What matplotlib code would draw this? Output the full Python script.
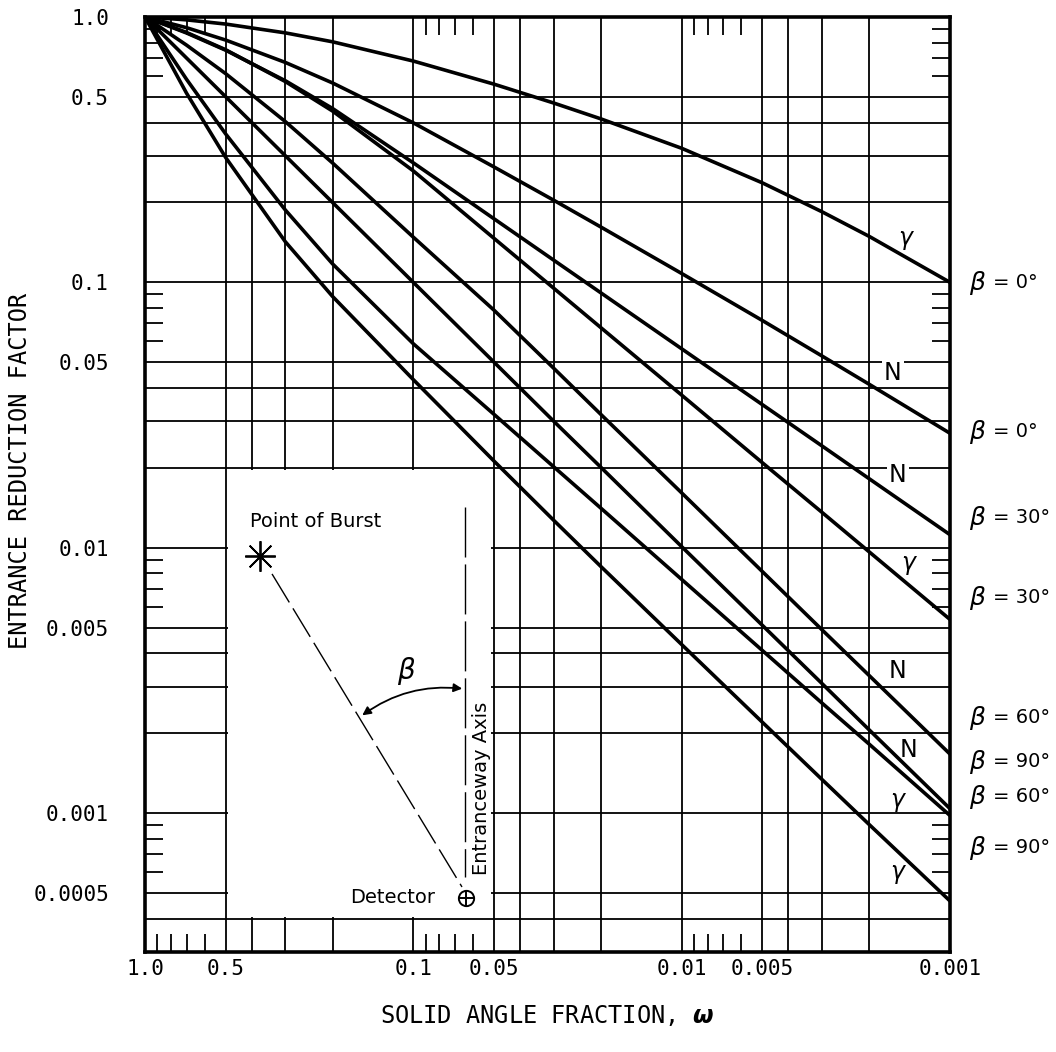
import matplotlib
matplotlib.use("Agg")
import matplotlib.pyplot as plt
from matplotlib.patches import FancyArrowPatch
from matplotlib.ticker import FixedLocator, NullFormatter

# solid angle fraction (x) where the curves were read
omega = [1.0, 0.7, 0.5, 0.3, 0.2, 0.1, 0.05, 0.03, 0.02, 0.01, 0.005, 0.003, 0.002, 0.001]

# entrance reduction factor
gamma_0 = [1.0, 0.975, 0.94, 0.871, 0.806, 0.682, 0.558, 0.474, 0.413, 0.32, 0.237, 0.1845, 0.149, 0.1]
n_0 = [1.0, 0.911, 0.818, 0.674, 0.564, 0.399, 0.272, 0.204, 0.1616, 0.108, 0.0718, 0.0528, 0.0413, 0.027]
n_30 = [1.0, 0.87, 0.749, 0.575, 0.452, 0.282, 0.1735, 0.1213, 0.0913, 0.0562, 0.0346, 0.0242, 0.0182, 0.0112]
gamma_30 = [1.0, 0.874, 0.752, 0.571, 0.442, 0.263, 0.1464, 0.0951, 0.0675, 0.0376, 0.0209, 0.0136, 0.00965, 0.00537]
n_60 = [1.0, 0.783, 0.611, 0.4035, 0.2817, 0.148, 0.0785, 0.0475, 0.0318, 0.0161, 0.00813, 0.00491, 0.0033, 0.00167]
n_90 = [1.0, 0.7, 0.5, 0.3, 0.2, 0.1, 0.05, 0.03, 0.0201, 0.0101, 0.0051, 0.00308, 0.00206, 0.00104]
gamma_60 = [1.0, 0.582, 0.362, 0.1874, 0.1174, 0.0587, 0.0318, 0.0202, 0.0141, 0.0076, 0.0041, 0.0026, 0.00182, 0.00098]
gamma_90 = [1.0, 0.516, 0.295, 0.1423, 0.0885, 0.043, 0.0212, 0.0127, 0.0085, 0.00432, 0.0022, 0.00134, 0.000906, 0.000467]

curves = [gamma_0, n_0, n_30, gamma_30, n_60, n_90, gamma_60, gamma_90]
curve_tags = ["γ", "N", "N", "γ", "N", "N", "γ", "γ"]
beta_labels = ["0", "0", "30", "30", "60", "90", "60", "90"]

x_ticks = [1.0, 0.5, 0.1, 0.05, 0.01, 0.005, 0.001]
x_ticklabels = ["1.0", "0.5", "0.1", "0.05", "0.01", "0.005", "0.001"]
y_ticks = [1.0, 0.5, 0.1, 0.05, 0.01, 0.005, 0.001, 0.0005]
y_ticklabels = ["1.0", "0.5", "0.1", "0.05", "0.01", "0.005", "0.001", "0.0005"]

x_grid = [0.5, 0.4, 0.3, 0.2, 0.1, 0.05, 0.04, 0.03, 0.02, 0.01, 0.005, 0.004, 0.003, 0.002]
y_grid = [0.5, 0.4, 0.3, 0.2, 0.1, 0.05, 0.04, 0.03, 0.02, 0.01, 0.005, 0.004, 0.003,
          0.002, 0.001, 0.0005, 0.0004]
x_minor = [0.9, 0.8, 0.7, 0.6, 0.09, 0.08, 0.07, 0.06, 0.009, 0.008, 0.007, 0.006]
y_minor = [0.9, 0.8, 0.7, 0.6, 0.09, 0.08, 0.07, 0.06, 0.009, 0.008, 0.007, 0.006,
           0.0009, 0.0008, 0.0007, 0.0006]

mono = "DejaVu Sans Mono"

fig = plt.figure(figsize=(10.56, 10.52), dpi=100)
ax = fig.add_axes([0.1373, 0.0951, 0.7623, 0.8888])
ax.set_xscale("log")
ax.set_yscale("log")
ax.set_xlim(1.0, 0.001)
ax.set_ylim(0.0003, 1.0)

for v in x_grid:
    ax.axvline(v, color="black", lw=1.3, zorder=1)
for v in y_grid:
    ax.axhline(v, color="black", lw=1.3, zorder=1)

# inset box hides the grid
ax.fill([0.49, 0.0515, 0.0515, 0.49], [0.0196, 0.0196, 0.000408, 0.000408],
        color="white", zorder=1.5, lw=0)

for c in curves:
    ax.plot(omega, c, color="black", lw=2.6, zorder=3, solid_joinstyle="round")

for s in ax.spines.values():
    s.set_linewidth(2.6)
    s.set_zorder(4)

ax.set_xticks(x_ticks)
ax.set_xticklabels(x_ticklabels, fontfamily=mono, fontsize=15)
ax.set_yticks(y_ticks)
ax.set_yticklabels(y_ticklabels, fontfamily=mono, fontsize=15)
ax.xaxis.set_minor_locator(FixedLocator(x_minor))
ax.yaxis.set_minor_locator(FixedLocator(y_minor))
ax.xaxis.set_minor_formatter(NullFormatter())
ax.yaxis.set_minor_formatter(NullFormatter())
ax.tick_params(axis="x", which="major", length=0, pad=5)
ax.tick_params(axis="y", which="major", length=0, pad=26)
ax.tick_params(which="minor", direction="in", length=13, width=1.3,
               top=True, bottom=True, left=True, right=True)

ax.set_ylabel("ENTRANCE REDUCTION FACTOR", fontfamily=mono, fontsize=17, va="center")
ax.yaxis.set_label_coords(-0.155, 0.515)
ax.set_xlabel(r"SOLID ANGLE FRACTION, $\boldsymbol{\omega}$", fontfamily=mono, fontsize=17)
ax.xaxis.set_label_coords(0.5, -0.055)

# curve tags near the right edge
tag_pos = [(0.944, 0.764), (0.929, 0.619), (0.935, 0.510), (0.948, 0.416),
           (0.935, 0.300), (0.948, 0.216), (0.935, 0.163), (0.935, 0.085)]
for i, (tag, (tx, ty)) in enumerate(zip(curve_tags, tag_pos)):
    kw = {}
    if i in (1, 2):
        kw["bbox"] = dict(facecolor="white", edgecolor="none", pad=1.5)
    ax.text(tx, ty, tag, transform=ax.transAxes, ha="center", va="center",
            fontsize=17, style="italic" if tag == "γ" else "normal", zorder=5, **kw)

# beta labels outside the right edge
beta_y = [0.7155, 0.5561, 0.4642, 0.3786, 0.2503, 0.2032, 0.1658, 0.1112]
for b, by in zip(beta_labels, beta_y):
    ax.text(1.024, by, r"$\beta$", transform=ax.transAxes,
            ha="left", va="center", fontsize=18, clip_on=False)
    ax.text(1.053, by, "= " + b + "°", transform=ax.transAxes,
            ha="left", va="center", fontsize=14, clip_on=False)

# inset sketch
ta = ax.transAxes
ax.text(0.1304, 0.4602, "Point of Burst", transform=ta, fontsize=14,
        ha="left", va="center", zorder=5)
ax.plot([0.1429], [0.4235], transform=ta, marker=(8, 2, 0), ms=22, mew=1.3,
        color="black", zorder=5)
ax.plot([0.1578, 0.3938], [0.4043, 0.0695], transform=ta, color="black", lw=1.0,
        ls=(0, (24, 5)), zorder=5)
ax.plot([0.3975, 0.3975], [0.4759, 0.0802], transform=ta, color="black", lw=1.0,
        ls=(0, (36, 5)), zorder=5)
ax.text(0.4183, 0.1754, "Entranceway Axis", transform=ta, rotation=90,
        fontsize=14, ha="center", va="center", zorder=5)
ax.text(0.3602, 0.0578, "Detector", transform=ta, fontsize=14,
        ha="right", va="center", zorder=5)
ax.plot([0.3988], [0.0581], transform=ta, marker="o", ms=11, mfc="white",
        mec="black", mew=1.4, zorder=5)
ax.plot([0.3988], [0.0581], transform=ta, marker="+", ms=11, color="black",
        mew=1.4, zorder=6)
arc = FancyArrowPatch((0.2671, 0.2513), (0.3975, 0.2813), transform=ta,
                      connectionstyle="arc3,rad=-0.2",
                      arrowstyle="<|-|>,head_length=5,head_width=2.5",
                      color="black", lw=1.3, zorder=5)
ax.add_patch(arc)
ax.text(0.3242, 0.3005, r"$\beta$", transform=ta, fontsize=20,
        ha="center", va="center", zorder=5)

fig.savefig("out.png", dpi=100)
